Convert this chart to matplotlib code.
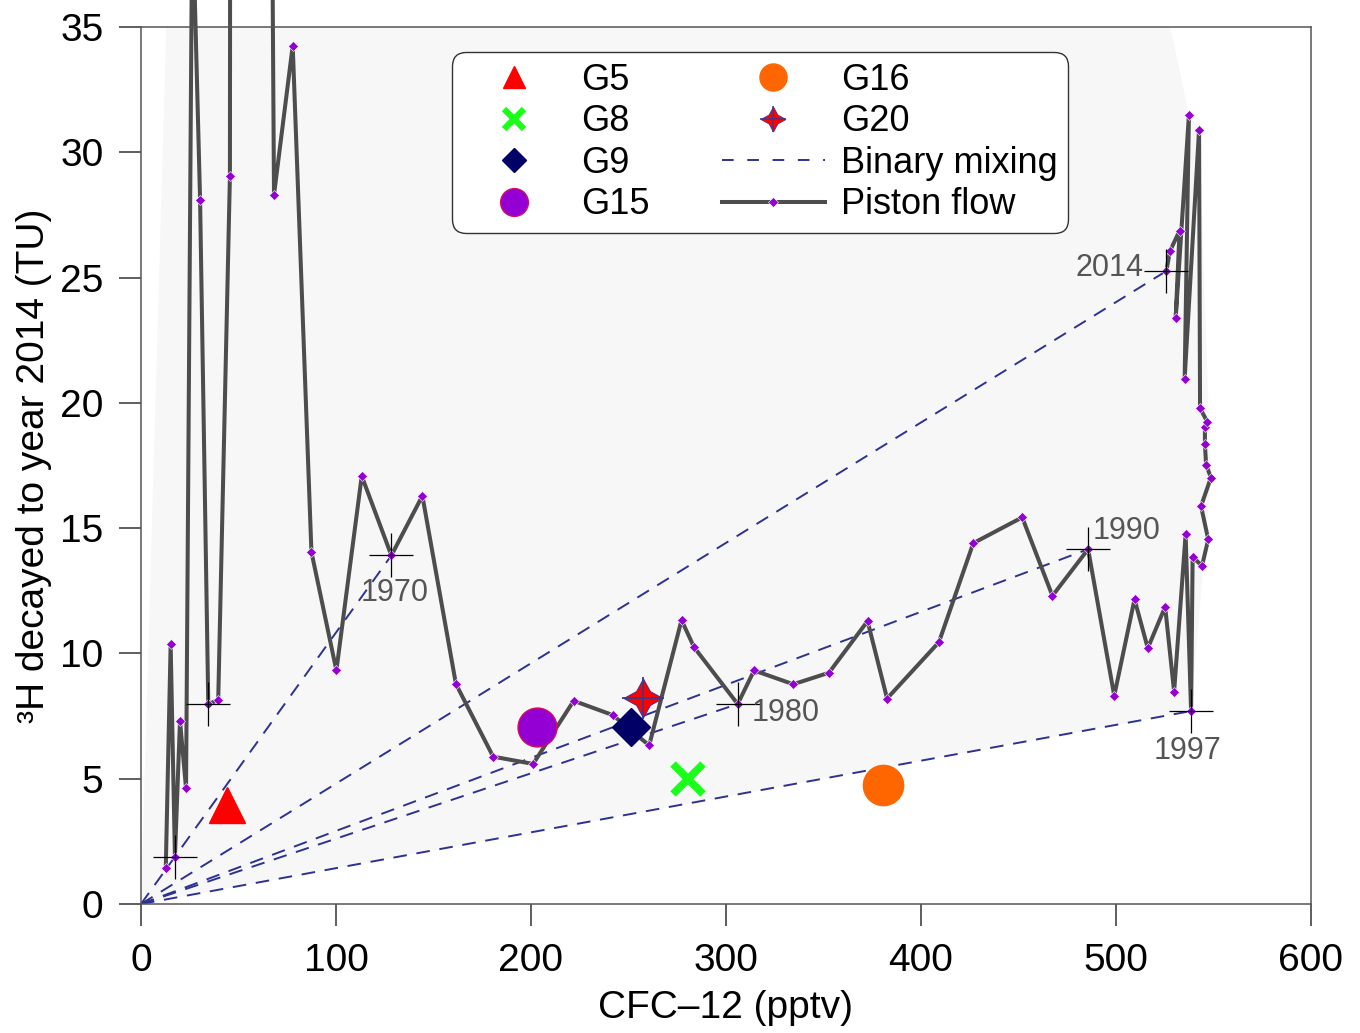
import numpy as np
import matplotlib
matplotlib.use("Agg")
import matplotlib.pyplot as plt
from matplotlib.lines import Line2D

plt.rcParams['font.family'] = ['Liberation Sans', 'DejaVu Sans']

# piston flow curve: one point per recharge year
pf_year = list(range(1953, 2015))
pf_cfc = [12.7, 15.2, 17.4, 20.0, 23.1, 26.3, 30.3, 34.5, 39.6, 45.6,
          47.5, 58.0, 68.2, 77.8, 87.4, 100.2, 113.2, 128.4, 144.3, 161.5,
          180.6, 201.1, 221.9, 241.9, 260.6, 277.2, 283.6, 306.0, 314.4, 334.5,
          352.8, 372.6, 382.6, 409.2, 426.8, 451.9, 467.4, 485.7, 499.1, 509.5,
          516.3, 525.2, 529.8, 535.7, 538.5, 539.3, 544.1, 547.3, 543.6, 548.7,
          546.2, 545.6, 545.6, 546.8, 543.1, 542.6, 535.2, 537.4, 530.6, 532.6,
          527.7, 525.8]
pf_h3 = [1.42, 10.36, 1.89, 7.31, 4.61, 40.0, 28.1, 7.98, 8.14, 29.06,
         200.0, 150.0, 28.3, 34.25, 14.05, 9.32, 17.08, 13.91, 16.29, 8.78,
         5.88, 5.59, 8.11, 7.54, 6.33, 11.33, 10.25, 7.98, 9.32, 8.77,
         9.23, 11.29, 8.20, 10.45, 14.40, 15.43, 12.30, 14.16, 8.31, 12.16,
         10.21, 11.86, 8.47, 14.75, 7.70, 13.86, 13.49, 14.55, 15.88, 17.02,
         17.52, 18.36, 19.05, 19.25, 19.78, 30.90, 20.96, 31.50, 23.38, 26.87,
         26.06, 25.26]

cross_years = [1955, 1960, 1970, 1980, 1990, 1997, 2014]
mix_years = [1970, 1980, 1990, 1997, 2014]

# shaded envelope of possible mixtures
env_cfc = [0, 20, 476, 537.4, 542.6, 548.7, 538.5]
env_h3 = [0, 54, 54, 31.5, 30.9, 17.02, 7.70]

# groundwater samples
smp_name = ['G5', 'G8', 'G9', 'G15', 'G16', 'G20']
smp_cfc = [44.1, 280.5, 251.3, 203.0, 380.5, 257.4]
smp_h3 = [3.95, 4.99, 7.06, 7.06, 4.75, 8.22]

pt = 0.72  # points per pixel at dpi 100

fig = plt.figure(figsize=(13.6, 10.33), dpi=100)
ax = fig.add_axes([141/1360, 1-904/1033, 1170/1360, 877/1033])

ax.fill(env_cfc, env_h3, color='#f7f7f7', lw=0, zorder=0)

mix_color = '#2e3192'
mix_ls = (0, (7, 5))
for yr in mix_years:
    i = pf_year.index(yr)
    ax.plot([0, pf_cfc[i]], [0, pf_h3[i]], color=mix_color, lw=1.4,
            ls=mix_ls, zorder=1)

ax.plot(pf_cfc, pf_h3, color='#4d4d4d', lw=2.9, marker='D', ms=5.4,
        mfc='#9400d3', mec='white', mew=0.4, clip_on=False, zorder=2)

for yr in cross_years:
    i = pf_year.index(yr)
    ax.plot(pf_cfc[i], pf_h3[i], marker='+', ms=32, mew=0.9, color='black',
            ls='none', zorder=5)

# year labels next to the crosses
label_pos = {1970: ((-31, -38), 'left'), 1980: ((14, -9), 'left'),
             1990: ((5, 18), 'left'), 1997: ((-4, -40), 'center'),
             2014: ((-23, 3), 'right')}
for yr, (off, ha) in label_pos.items():
    i = pf_year.index(yr)
    ax.annotate(str(yr), (pf_cfc[i], pf_h3[i]), xytext=(off[0]*pt, off[1]*pt),
                textcoords='offset points', ha=ha, va='center',
                fontsize=22, color='#555555', zorder=6)

styles = {
    'G5': dict(marker='^', color='#ff0000', ms=26),
    'G8': dict(marker='x', color='#1aff1a', ms=22, mew=5.5),
    'G9': dict(marker='D', color='#000066', ms=19),
    'G15': dict(marker='o', color='#9400d3', ms=28, mec='#d0105a', mew=1),
    'G16': dict(marker='o', color='#ff6600', ms=29, mec='#ff6600'),
}
for name, x, y in zip(smp_name, smp_cfc, smp_h3):
    if name == 'G20':
        ax.plot(x, y, marker=(4, 1, 0), ms=28, color='#ff0000',
                mec='#5a2d82', mew=0.8, ls='none', zorder=7)
        ax.plot(x, y, marker='+', ms=30, mew=1.3, color='#3a3a8c',
                ls='none', zorder=7)
    else:
        ax.plot(x, y, ls='none', zorder=7, **styles[name])

# legend proxies
h_g5 = Line2D([], [], ls='none', marker='^', color='#ff0000', ms=16)
h_g8 = Line2D([], [], ls='none', marker='x', color='#1aff1a', ms=14, mew=4.5)
h_g9 = Line2D([], [], ls='none', marker='D', color='#000066', ms=12.5)
h_g15 = Line2D([], [], ls='none', marker='o', color='#9400d3', ms=20,
               mec='#d0105a', mew=1)
h_g16 = Line2D([], [], ls='none', marker='o', color='#ff6600', ms=19.5)
h_g20a = Line2D([], [], ls='none', marker=(4, 1, 0), color='#ff0000', ms=18,
                mec='#5a2d82', mew=0.6)
h_g20b = Line2D([], [], ls='none', marker='+', color='#3a3a8c', ms=19, mew=1.1)
h_mix = Line2D([], [], color=mix_color, lw=1.4, ls=(0, (6, 7)))
h_pf = Line2D([], [], color='#4d4d4d', lw=2.9, marker='D', ms=5.4,
              mfc='#9400d3', mec='white', mew=0.4)

leg = ax.legend([h_g5, h_g8, h_g9, h_g15, h_g16, (h_g20a, h_g20b), h_mix, h_pf],
                ['G5', 'G8', 'G9', 'G15', 'G16', 'G20', 'Binary mixing', 'Piston flow'],
                ncol=2, loc='upper left', bbox_to_anchor=(0.2655, 0.9715),
                borderaxespad=0, fontsize=26, handlelength=2.85,
                handletextpad=0.44, columnspacing=2.0, labelspacing=0.18,
                borderpad=0.3, numpoints=1, fancybox=True, framealpha=1,
                edgecolor='#333333', facecolor='white')
leg.get_frame().set_linewidth(1)
leg.get_frame().set_boxstyle('round,pad=0,rounding_size=0.4')
leg.set_zorder(10)

ax.set_xlim(0, 600)
ax.set_ylim(0, 35)
ax.set_xticks(np.arange(0, 601, 100))
ax.set_yticks(np.arange(0, 36, 5))
ax.tick_params(axis='both', direction='out', length=16, width=1.1,
               color='#333333', labelsize=28)
ax.tick_params(axis='x', pad=12)
ax.tick_params(axis='y', pad=11)
for side in ['left', 'right', 'top', 'bottom']:
    ax.spines[side].set_color('#555555')
    ax.spines[side].set_linewidth(1.1)

ax.set_xlabel('CFC–12 (pptv)', fontsize=28, labelpad=8)
ax.set_ylabel('³H decayed to year 2014 (TU)', fontsize=28, labelpad=6)

fig.savefig('out.png', dpi=100)
